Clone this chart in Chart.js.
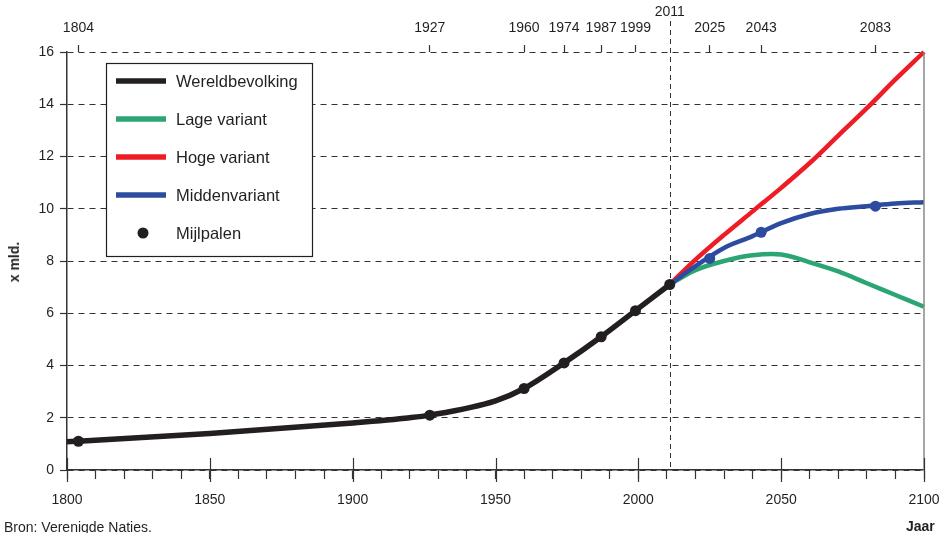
<!DOCTYPE html>
<html>
<head>
<meta charset="utf-8">
<script src="https://cdn.jsdelivr.net/npm/chart.js@4"></script>
<style>
  body { margin: 0; background: #fff; }
  #wrap { position: relative; width: 939px; height: 533px; overflow: hidden; font-family: "Liberation Sans", Arial, sans-serif; color: #231f20; }
  #ytitel { position: absolute; left: 14px; top: 262px; transform: translate(-50%, -50%) rotate(-90deg); font-weight: bold; font-size: 14px; white-space: nowrap; }
  #bron { position: absolute; left: 4px; top: 519px; font-size: 14px; white-space: nowrap; }
  #jaar { position: absolute; left: 906px; top: 518px; font-size: 14px; font-weight: bold; white-space: nowrap; }
</style>
</head>
<body>
<div id="wrap">
  <canvas id="grafiek" width="939" height="533"></canvas>
  <div id="ytitel">x mld.</div>
  <div id="bron">Bron: Verenigde Naties.</div>
  <div id="jaar">Jaar</div>
</div>
<script>
// wereldbevolking (miljard)
const jarenWereld = [1800, 1804, 1850, 1900, 1920, 1927, 1950, 1960, 1974, 1987, 1999, 2011];
const wereld = [1.08, 1.1, 1.4, 1.8, 2.0, 2.1, 2.65, 3.12, 4.1, 5.1, 6.1, 7.1];

// VN-projecties
const jarenProjectie = [2011, 2020, 2030, 2040, 2050, 2060, 2070, 2080, 2090, 2100];
const laag = [7.1, 7.65, 8.0, 8.22, 8.25, 7.95, 7.6, 7.15, 6.7, 6.25];
const hoog = [7.1, 8.05, 9.0, 9.9, 10.8, 11.75, 12.8, 13.85, 14.95, 16.0];
const midden = [7.1, 7.8, 8.5, 8.95, 9.45, 9.8, 10.0, 10.1, 10.2, 10.25];

// mijlpalen (elke miljard erbij)
const mijlJaren = [1804, 1927, 1960, 1974, 1987, 1999, 2011];
const mijlWaarden = [1.1, 2.1, 3.12, 4.1, 5.1, 6.1, 7.1];
const mijlJarenProj = [2025, 2043, 2083];
const mijlWaardenProj = [8.1, 9.1, 10.1];

const bovenJaren = [1804, 1927, 1960, 1974, 1987, 1999, 2011, 2025, 2043, 2083];
const yTicks = [0, 2, 4, 6, 8, 10, 12, 14, 16];

const legendaNamen = ['Wereldbevolking', 'Lage variant', 'Hoge variant', 'Middenvariant', 'Mijlpalen'];

const ZWART = '#231f20', GROEN = '#2ba673', ROOD = '#ee1c25', BLAUW = '#2d4b9f';
const tekstFont = { family: '"Liberation Sans", Arial, sans-serif', size: 14 };

function punten(xs, ys) {
  return xs.map((x, i) => ({ x: x, y: ys[i] }));
}

function lijn(label, data, kleur, dikte, volgorde, monotoon) {
  return {
    label: label, data: data, borderColor: kleur, backgroundColor: kleur,
    borderWidth: dikte, pointRadius: 0, pointHoverRadius: 0,
    cubicInterpolationMode: monotoon ? 'monotone' : 'default', tension: 0.35,
    fill: false, order: volgorde, clip: 6
  };
}

function geenRandPadding(s) {
  s.paddingLeft = 0;
  s.paddingRight = 0;
}

// legenda, stippellijn 2011, grote maatstreepjes en rechterrand
const extras = {
  id: 'extras',
  beforeDatasetsDraw(chart) {
    const { ctx, chartArea } = chart;
    const x = Math.round(chart.scales.x.getPixelForValue(2011)) + 0.5;
    ctx.save();
    ctx.strokeStyle = '#333';
    ctx.lineWidth = 1;
    ctx.setLineDash([5, 4]);
    ctx.beginPath();
    ctx.moveTo(x, chartArea.top - 31);
    ctx.lineTo(x, chartArea.bottom);
    ctx.stroke();
    ctx.restore();
  },
  afterDraw(chart) {
    const { ctx, chartArea } = chart;
    const sx = chart.scales.x;
    ctx.save();
    // rechterrand
    ctx.strokeStyle = '#8a8a8a';
    ctx.lineWidth = 1.5;
    ctx.beginPath();
    ctx.moveTo(chartArea.right, chartArea.top);
    ctx.lineTo(chartArea.right, chartArea.bottom);
    ctx.stroke();
    // grote maatstreepjes elke 50 jaar
    ctx.strokeStyle = '#333';
    ctx.lineWidth = 1.2;
    for (let j = 1800; j <= 2100; j += 50) {
      const x = Math.round(sx.getPixelForValue(j)) + 0.5;
      ctx.beginPath();
      ctx.moveTo(x, chartArea.bottom - 12);
      ctx.lineTo(x, chartArea.bottom + 12);
      ctx.stroke();
    }
    // legenda
    const lx = chartArea.left + 39, ly = chartArea.top + 11, lw = 206, lh = 193;
    ctx.fillStyle = '#fff';
    ctx.fillRect(lx, ly, lw, lh);
    ctx.strokeStyle = ZWART;
    ctx.lineWidth = 1.2;
    ctx.strokeRect(lx + 0.5, ly + 0.5, lw, lh);
    const kleuren = [ZWART, GROEN, ROOD, BLAUW, ZWART];
    ctx.font = '16.5px "Liberation Sans", Arial, sans-serif';
    ctx.textBaseline = 'middle';
    legendaNamen.forEach((naam, i) => {
      const y = ly + 18 + i * 38;
      if (i < 4) {
        ctx.strokeStyle = kleuren[i];
        ctx.lineWidth = 5.5;
        ctx.beginPath();
        ctx.moveTo(lx + 10, y);
        ctx.lineTo(lx + 60, y);
        ctx.stroke();
      } else {
        ctx.fillStyle = kleuren[i];
        ctx.beginPath();
        ctx.arc(lx + 37, y, 5.5, 0, Math.PI * 2);
        ctx.fill();
      }
      ctx.fillStyle = ZWART;
      ctx.fillText(naam, lx + 70, y + 1);
    });
    ctx.restore();
  }
};

new Chart(document.getElementById('grafiek').getContext('2d'), {
  type: 'line',
  data: {
    datasets: [
      lijn('Wereldbevolking', punten(jarenWereld, wereld), ZWART, 5.5, 1, true),
      lijn('Lage variant', punten(jarenProjectie, laag), GROEN, 4.5, 4, false),
      lijn('Hoge variant', punten(jarenProjectie, hoog), ROOD, 4.5, 3, false),
      lijn('Middenvariant', punten(jarenProjectie, midden), BLAUW, 4.5, 2, false),
      {
        label: 'Mijlpalen', data: punten(mijlJaren, mijlWaarden), showLine: false,
        pointRadius: 5.5, pointBackgroundColor: ZWART, pointBorderWidth: 0, order: 0, clip: false
      },
      {
        label: 'Mijlpalen projectie', data: punten(mijlJarenProj, mijlWaardenProj), showLine: false,
        pointRadius: 5.5, pointBackgroundColor: BLAUW, pointBorderWidth: 0, order: 0, clip: false
      }
    ]
  },
  options: {
    responsive: false,
    animation: false,
    layout: { padding: { left: 0, right: 15, top: 0, bottom: 0 } },
    plugins: { legend: { display: false }, tooltip: { enabled: false } },
    scales: {
      x: {
        type: 'linear', position: 'bottom', min: 1800, max: 2100,
        ticks: {
          stepSize: 10, autoSkip: false, maxRotation: 0, padding: 13,
          color: ZWART, font: tekstFont,
          callback: v => (v % 50 === 0 ? String(v) : '')
        },
        grid: { drawOnChartArea: false, tickLength: 9, tickColor: '#333', tickWidth: 1.2 },
        border: { display: true, color: '#333', width: 1.5 },
        afterFit: s => { s.height = 63; geenRandPadding(s); }
      },
      x2: {
        type: 'linear', position: 'top', min: 1800, max: 2100,
        afterBuildTicks: s => { s.ticks = bovenJaren.map(v => ({ value: v })); },
        ticks: {
          autoSkip: false, maxRotation: 0, padding: 8, color: ZWART, font: tekstFont,
          callback: v => (v === 2011 ? ['2011', ''] : String(v))
        },
        grid: {
          drawOnChartArea: false, tickLength: 7, tickWidth: 1.2,
          tickColor: c => (c.tick && c.tick.value === 2011 ? 'rgba(0,0,0,0)' : '#333')
        },
        border: { display: false },
        afterFit: s => { s.height = 52; geenRandPadding(s); }
      },
      y: {
        min: 0, max: 16,
        afterBuildTicks: s => { s.ticks = yTicks.map(v => ({ value: v })); },
        ticks: { padding: 6, color: ZWART, font: tekstFont },
        grid: { color: '#333', lineWidth: 1, tickLength: 7, tickColor: '#333', tickWidth: 1.2 },
        border: { display: true, color: '#333', width: 1.5, dash: [6, 5] },
        afterFit: s => { s.width = 67; s.paddingTop = 0; s.paddingBottom = 0; }
      }
    }
  },
  plugins: [extras]
});
</script>
</body>
</html>
